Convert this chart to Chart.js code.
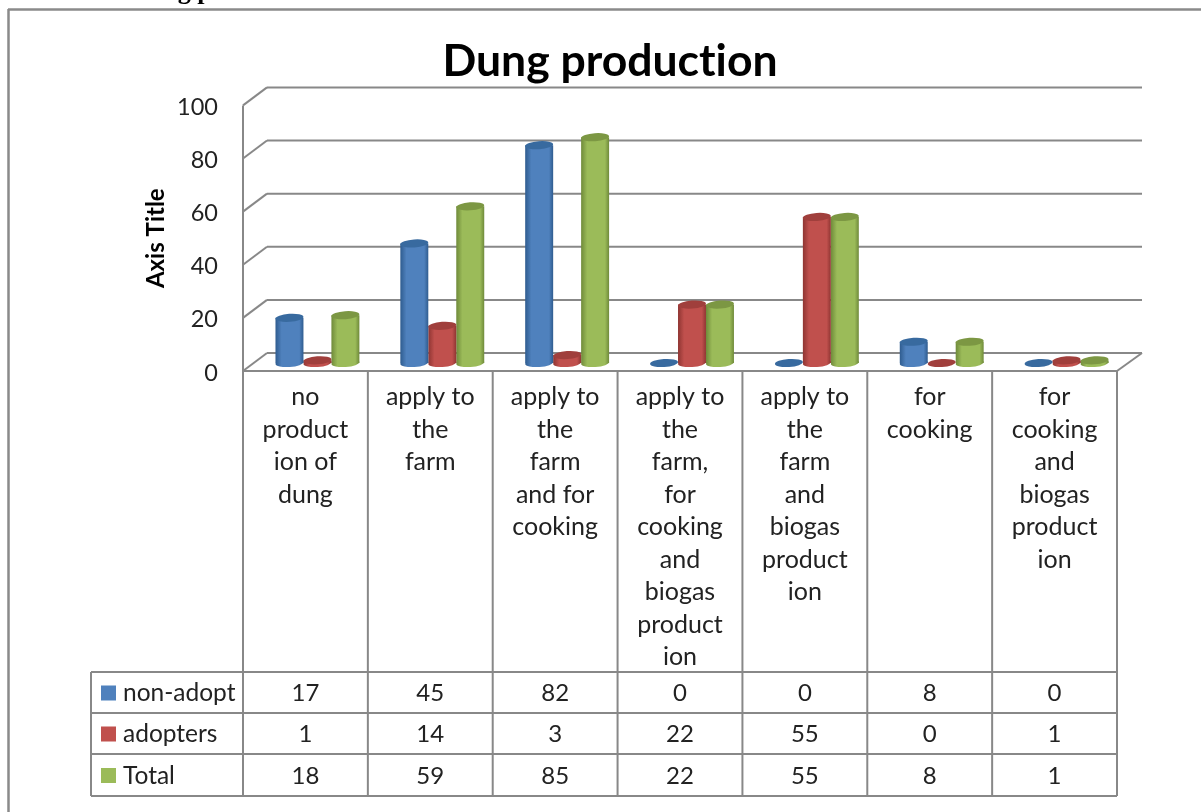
<!DOCTYPE html>
<html>
<head>
<meta charset="utf-8">
<title>Dung production</title>
<script src="https://cdn.jsdelivr.net/npm/chart.js@4"></script>
<style>
    html, body { margin: 0; padding: 0; background: #fff; overflow: hidden; }
    canvas { display: block; }
</style>
</head>
<body>
<canvas id="dungChart" width="1201" height="812"></canvas>
<script>
const categories = [
    ['no', 'product', 'ion of', 'dung'],
    ['apply to', 'the', 'farm'],
    ['apply to', 'the', 'farm', 'and for', 'cooking'],
    ['apply to', 'the', 'farm,', 'for', 'cooking', 'and', 'biogas', 'product', 'ion'],
    ['apply to', 'the', 'farm', 'and', 'biogas', 'product', 'ion'],
    ['for', 'cooking'],
    ['for', 'cooking', 'and', 'biogas', 'product', 'ion']
];
const nonAdopt = [17, 45, 82, 0, 0, 8, 0];
const adopters = [1, 14, 3, 22, 55, 0, 1];
const total = [18, 59, 85, 22, 55, 8, 1];
const seriesNames = ['non-adopt', 'adopters', 'Total'];
const seriesColors = ['#4f81bd', '#c0504d', '#9bbb59'];
const edgeColors = ['#2f5c8f', '#8f3532', '#6f8a3a'];
const lidColors = ['#386a9f', '#a03f3c', '#7c9743'];

const lineGray = '#888888';
const textColor = '#222222';
const fontName = 'Lato, Carlito, "Noto Sans", sans-serif';
const depthX = 24, depthY = -18;   // floor depth of the fake 3D box
const barShiftX = 12, barShiftY = -8;
const lidRadius = 4;
const tableTop = 672, tableBottom = 796, tableLeft = 91;
const rowLines = [672, 713, 754, 796];

function line(ctx, x1, y1, x2, y2) {
    ctx.beginPath();
    ctx.moveTo(x1, y1);
    ctx.lineTo(x2, y2);
    ctx.stroke();
}

function lid(ctx, el, fill) {
    ctx.fillStyle = fill;
    ctx.beginPath();
    ctx.ellipse(el.x, el.y, el.width / 2, lidRadius, -0.07, 0, Math.PI * 2);
    ctx.fill();
}

const box3d = {
    id: 'box3d',
    beforeDraw(chart) {
        // no "ti" ligature in the title
        chart.ctx.textRendering = 'optimizeSpeed';
    },
    beforeDatasetsDraw(chart) {
        const ctx = chart.ctx, y = chart.scales.y, a = chart.chartArea;
        ctx.save();
        // page frame and the clipped caption above it
        ctx.strokeStyle = '#8a8a8a';
        ctx.lineWidth = 2.5;
        line(ctx, 8, 9.5, 1201, 9.5);
        line(ctx, 8.5, 9, 8.5, 812);
        ctx.fillStyle = '#000';
        ctx.font = 'bold 26px "Liberation Serif"';
        ctx.textAlign = 'left';
        ctx.textBaseline = 'alphabetic';
        ctx.fillText('Dung production', 130, -1);
        // walls
        ctx.strokeStyle = lineGray;
        ctx.lineWidth = 2;
        y.ticks.forEach(t => {
            const py = y.getPixelForValue(t.value);
            line(ctx, a.left, py, a.left + depthX, py + depthY);
            line(ctx, a.left + depthX, py + depthY, a.right + depthX + 1, py + depthY);
        });
        line(ctx, a.left, a.bottom, a.right, a.bottom);
        line(ctx, a.right, a.bottom, a.right + depthX + 1, a.bottom + depthY);
        line(ctx, a.left, a.top, a.left, tableBottom);
        ctx.restore();
    },
    beforeDatasetDraw(chart, args) {
        const ctx = chart.ctx, meta = args.meta, i = args.index;
        ctx.save();
        ctx.translate(barShiftX, barShiftY);
        const base = chart.scales.y.getPixelForValue(0);
        meta.data.forEach(el => {
            const left = el.x - el.width / 2;
            const g = ctx.createLinearGradient(left, 0, left + el.width, 0);
            g.addColorStop(0, edgeColors[i]);
            g.addColorStop(0.22, seriesColors[i]);
            g.addColorStop(0.6, seriesColors[i]);
            g.addColorStop(0.85, seriesColors[i]);
            g.addColorStop(1, edgeColors[i]);
            el.options = Object.assign({}, el.options, { backgroundColor: g });
            if (el.base - el.y > 0.5) {
                lid(ctx, { x: el.x, y: base, width: el.width }, g);
            }
        });
    },
    afterDatasetDraw(chart, args) {
        const ctx = chart.ctx;
        args.meta.data.forEach(el => lid(ctx, el, lidColors[args.index]));
        ctx.restore();
    },
    afterDraw(chart) {
        const ctx = chart.ctx, a = chart.chartArea, x = chart.scales.x;
        const colW = (a.right - a.left) / categories.length;
        const rows = [nonAdopt, adopters, total];
        ctx.save();
        ctx.strokeStyle = lineGray;
        ctx.lineWidth = 2;
        for (let c = 1; c <= categories.length; c++) {
            line(ctx, a.left + c * colW, a.bottom, a.left + c * colW, tableBottom);
        }
        rowLines.forEach(r => line(ctx, tableLeft, r, a.right, r));
        line(ctx, tableLeft, tableTop, tableLeft, tableBottom);
        ctx.fillStyle = textColor;
        ctx.textBaseline = 'middle';
        rows.forEach((row, r) => {
            const my = (rowLines[r] + rowLines[r + 1]) / 2 + 1;
            ctx.textAlign = 'center';
            ctx.font = '24px ' + fontName;
            row.forEach((v, c) => ctx.fillText(String(v), x.getPixelForTick(c), my));
            ctx.textAlign = 'left';
            ctx.font = '24.5px ' + fontName;
            ctx.fillText(seriesNames[r], 123, my);
            ctx.fillStyle = seriesColors[r];
            ctx.fillRect(101, my - 8, 15, 15);
            ctx.fillStyle = textColor;
        });
        ctx.restore();
    }
};

const chart = new Chart(document.getElementById('dungChart').getContext('2d'), {
    type: 'bar',
    data: {
        labels: categories,
        datasets: [
            { label: seriesNames[0], data: nonAdopt, backgroundColor: seriesColors[0] },
            { label: seriesNames[1], data: adopters, backgroundColor: seriesColors[1] },
            { label: seriesNames[2], data: total, backgroundColor: seriesColors[2] }
        ]
    },
    options: {
        responsive: false,
        animation: false,
        devicePixelRatio: 1,
        layout: { padding: { left: 103, right: 84, top: 0, bottom: 0 } },
        datasets: { bar: { barPercentage: 1, categoryPercentage: 0.672, borderWidth: 0 } },
        scales: {
            x: {
                grid: { display: false, drawTicks: false },
                border: { display: false },
                ticks: {
                    color: textColor,
                    font: { family: fontName, size: 25, lineHeight: 1.3 },
                    padding: 10,
                    maxRotation: 0,
                    minRotation: 0,
                    autoSkip: false
                },
                afterFit(scale) { scale.height = 812 - 371; }
            },
            y: {
                min: 0,
                max: 100,
                grid: { display: false, drawTicks: false },
                border: { display: false },
                ticks: {
                    stepSize: 20,
                    color: textColor,
                    padding: 25,
                    labelOffset: 2,
                    font: { family: fontName, size: 23.5 }
                },
                title: {
                    display: true,
                    text: 'Axis Title',
                    color: '#000',
                    font: { family: fontName, size: 24, weight: 'bold' },
                    padding: { top: 39, bottom: 0 }
                },
                afterFit(scale) { scale.width = 243 - 103; }
            }
        },
        plugins: {
            legend: { display: false },
            tooltip: { enabled: false },
            title: {
                display: true,
                text: 'Dung production',
                color: '#000',
                font: { family: fontName, size: 44.5, weight: 'bold', lineHeight: 1.2 },
                padding: { top: 35, bottom: 17 }
            }
        }
    },
    plugins: [box3d]
});
</script>
</body>
</html>
